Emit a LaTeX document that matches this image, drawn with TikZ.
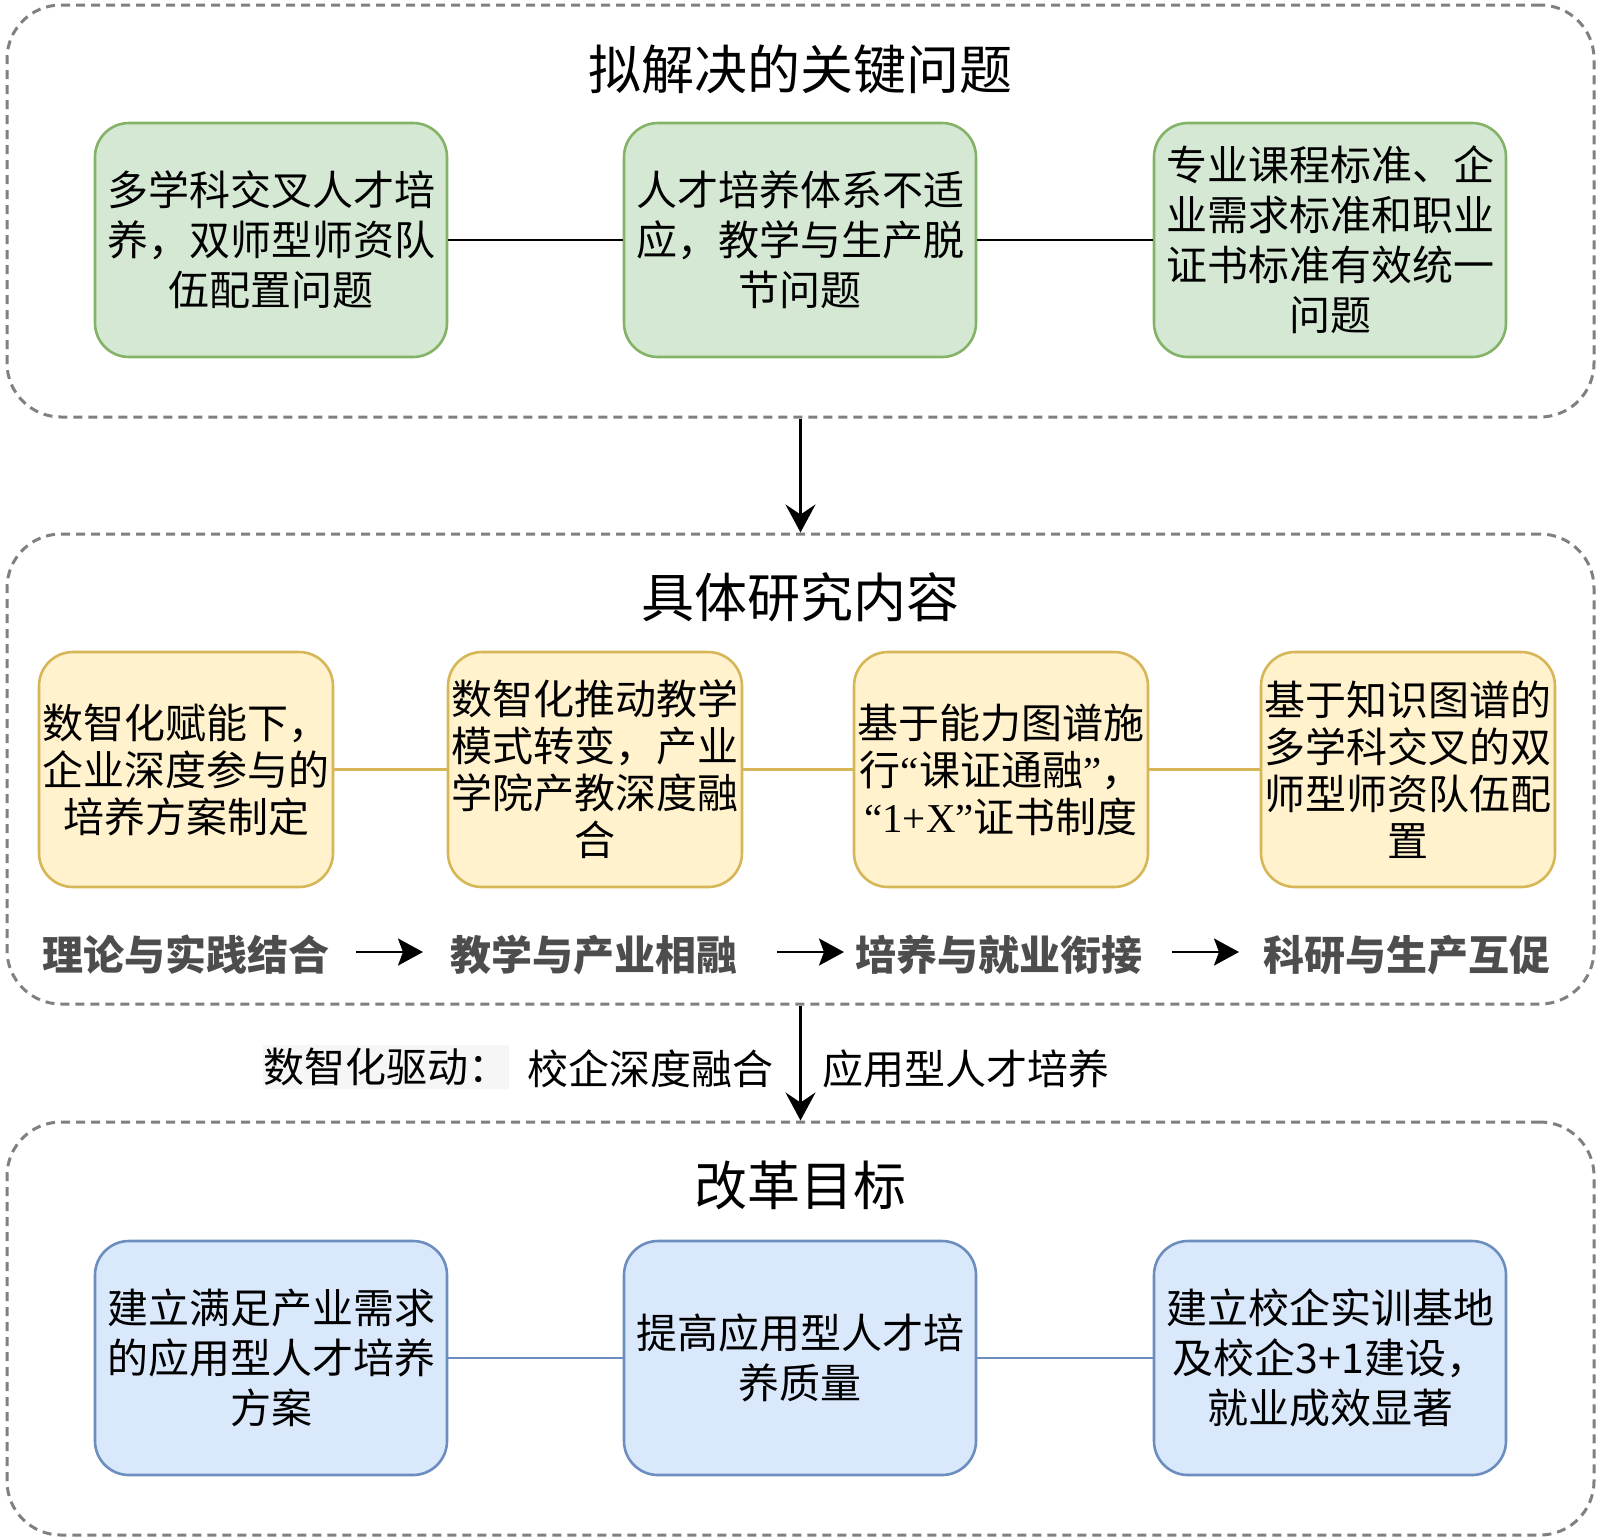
\documentclass[tikz,border=0pt]{standalone}
\usepackage{fontspec}
\setmainfont{Noto Sans CJK SC}
\newfontfamily\latinserif{Liberation Serif}
\usetikzlibrary{arrows.meta}
\definecolor{gfill}{HTML}{D5E8D4}
\definecolor{gline}{HTML}{82B366}
\definecolor{yfill}{HTML}{FFF2CC}
\definecolor{yline}{HTML}{D6B656}
\definecolor{bfill}{HTML}{DAE8FC}
\definecolor{bline}{HTML}{6C8EBF}
\definecolor{dashgray}{HTML}{808080}
\definecolor{labgray}{HTML}{4D4D4D}
\definecolor{bgfaint}{HTML}{F6F6F6}
\tikzset{
  container/.style={draw=dashgray, line width=1.5pt, dash pattern=on 4.5pt off 3pt,
    rounded corners=27pt, inner sep=0pt},
  titletext/.style={font=\fontsize{26.5}{30}\selectfont, inner sep=0pt},
  boxbase/.style={rounded corners=17pt, line width=1.3pt, align=center, inner sep=0pt,
    font=\fontsize{20.5}{25}\selectfont, minimum width=176pt, minimum height=117pt},
  greenbox/.style={boxbase, draw=gline, fill=gfill},
  bluebox/.style={boxbase, draw=bline, fill=bfill},
  yellowbox/.style={boxbase, draw=yline, fill=yfill, minimum width=147pt,
    minimum height=117.5pt, font=\fontsize{20.5}{23.5}\selectfont},
  steplabel/.style={font=\bfseries\fontsize{20.5}{24}\selectfont, text=labgray, inner sep=0pt},
  midlabel/.style={font=\fontsize{20.5}{24}\selectfont, inner sep=0pt},
  bigarrow/.style={line width=1.1pt, -{Stealth[length=14pt,width=15pt,inset=5pt]}},
  smallarrow/.style={line width=1.35pt, -{Stealth[length=12.5pt,width=13.5pt,inset=2.5pt]}},
}
\begin{document}
\begin{tikzpicture}[x=0.5pt,y=-0.5pt]
\useasboundingbox (0,0) rectangle (1600,1538);

% containers
\node[container, minimum width=793.5pt, minimum height=206pt] (c1) at (800.5,211) {};
\node[container, minimum width=793.5pt, minimum height=235pt] (c2) at (800.5,769) {};
\node[container, minimum width=793.5pt, minimum height=206.5pt] (c3) at (800.5,1328.5) {};

% titles
\node[titletext] (t1) at (800,69.5) {拟解决的关键问题};
\node[titletext] (t2) at (800,597) {具体研究内容};
\node[titletext] (t3) at (800,1185) {改革目标};

% green boxes
\node[greenbox] (g1) at (271,240) {多学科交叉人才培\\养，双师型师资队\\伍配置问题};
\node[greenbox] (g2) at (800,240) {人才培养体系不适\\应，教学与生产脱\\节问题};
\node[greenbox] (g3) at (1330,240) {专业课程标准、企\\业需求标准和职业\\证书标准有效统一\\问题};
\draw[line width=1.3pt] (g1) -- (g2);
\draw[line width=1.3pt] (g2) -- (g3);

% yellow boxes
\node[yellowbox] (y1) at (186,769.5) {数智化赋能下，\\企业深度参与的\\培养方案制定};
\node[yellowbox] (y2) at (595,769.5) {数智化推动教学\\模式转变，产业\\学院产教深度融\\合};
\node[yellowbox] (y3) at (1001,769.5) {基于能力图谱施\\行{\latinserif “}课证通融{\latinserif ”}，\\{\latinserif “1+X”}证书制度};
\node[yellowbox] (y4) at (1408,769.5) {基于知识图谱的\\多学科交叉的双\\师型师资队伍配\\置};
\draw[line width=1.3pt, yline] (y1) -- (y2);
\draw[line width=1.3pt, yline] (y2) -- (y3);
\draw[line width=1.3pt, yline] (y3) -- (y4);

% step labels
\node[steplabel] (s1) at (186,955) {理论与实践结合};
\node[steplabel] (s2) at (594,955) {教学与产业相融};
\node[steplabel] (s3) at (999,955) {培养与就业衔接};
\node[steplabel] (s4) at (1407,955) {科研与生产互促};
\coordinate (a1s) at (356,952); \coordinate (a1e) at (423,952);
\coordinate (a2s) at (777,952); \coordinate (a2e) at (844,952);
\coordinate (a3s) at (1172,952); \coordinate (a3e) at (1239,952);
\draw[smallarrow] (a1s) -- (a1e);
\draw[smallarrow] (a2s) -- (a2e);
\draw[smallarrow] (a3s) -- (a3e);

% blue boxes
\node[bluebox] (b1) at (271,1358) {建立满足产业需求\\的应用型人才培养\\方案};
\node[bluebox] (b2) at (800,1358) {提高应用型人才培\\养质量};
\node[bluebox] (b3) at (1330,1358) {建立校企实训基地\\及校企3+1建设，\\就业成效显著};
\draw[line width=1.3pt, bline] (b1) -- (b2);
\draw[line width=1.3pt, bline] (b2) -- (b3);

% arrows between containers
\draw[bigarrow] (c1.south) -- (c2.north);
\draw[bigarrow] (c2.south) -- (c3.north);

% middle labels
\node[midlabel, fill=bgfaint, minimum height=22pt] (m1) at (386,1067) {数智化驱动：};
\node[midlabel] (m2) at (650,1069) {校企深度融合};
\node[midlabel] (m3) at (965.5,1069) {应用型人才培养};
\end{tikzpicture}
\end{document}
